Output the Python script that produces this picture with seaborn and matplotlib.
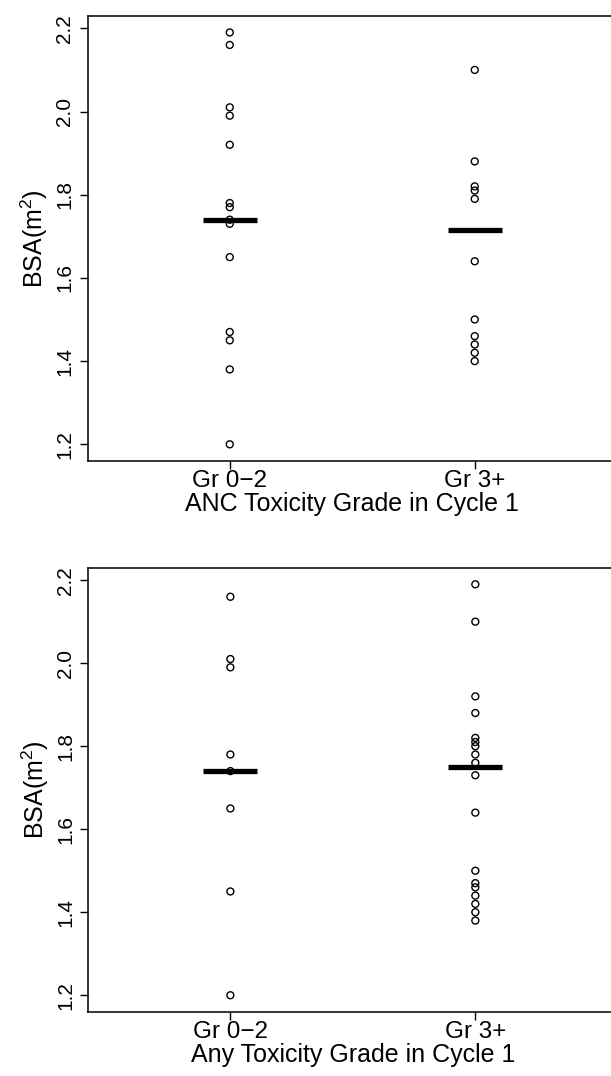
import numpy as np
import pandas as pd
import seaborn as sns
import matplotlib.pyplot as plt

# BSA values
groups = ['Gr 0\u22122', 'Gr 3+']

anc_low = [2.19, 2.16, 2.01, 1.99, 1.92, 1.78, 1.77, 1.74, 1.73, 1.65, 1.47, 1.45, 1.38, 1.20]
anc_high = [2.10, 1.88, 1.82, 1.81, 1.79, 1.64, 1.50, 1.46, 1.44, 1.42, 1.40]
anc_bar = [1.74, 1.715]

any_low = [2.16, 2.01, 1.99, 1.78, 1.74, 1.65, 1.45, 1.20]
any_high = [2.19, 2.10, 1.92, 1.88, 1.82, 1.81, 1.80, 1.78, 1.76, 1.73, 1.64,
            1.50, 1.47, 1.46, 1.44, 1.42, 1.40, 1.38]
any_bar = [1.74, 1.75]

xlabels = ['ANC Toxicity Grade in Cycle 1', 'Any Toxicity Grade in Cycle 1']
yticks = [1.2, 1.4, 1.6, 1.8, 2.0, 2.2]

sns.set_style('ticks')
plt.rcParams['font.family'] = ['Liberation Sans', 'DejaVu Sans']
plt.rcParams['mathtext.default'] = 'regular'
plt.rcParams['text.color'] = 'black'
plt.rcParams['axes.labelcolor'] = 'black'
plt.rcParams['xtick.color'] = 'black'
plt.rcParams['ytick.color'] = 'black'

fig = plt.figure(figsize=(6.11, 10.76), dpi=100)
# right edge of the boxes sits just past the picture, as in the reference
ax1 = fig.add_axes([0.1435, 0.5718, 0.866, 0.4133])
ax2 = fig.add_axes([0.1445, 0.0598, 0.866, 0.4124])

panels = [(ax1, anc_low, anc_high, anc_bar, xlabels[0]),
          (ax2, any_low, any_high, any_bar, xlabels[1])]

for ax, low, high, bar, xlab in panels:
    df = pd.DataFrame({'grade': [groups[0]] * len(low) + [groups[1]] * len(high),
                       'bsa': low + high})
    sns.stripplot(data=df, x='grade', y='bsa', order=groups, jitter=False,
                  color='black', size=5, linewidth=1, ax=ax)
    for coll in ax.collections:
        coll.set_facecolor('none')
        coll.set_edgecolor('black')
    for i, v in enumerate(bar):
        ax.hlines(v, i - 0.11, i + 0.11, color='black', linewidth=3.8, zorder=3)

    ax.set_xlim(-0.58, 1.58)
    ax.set_ylim(1.1605, 2.2295)
    ax.set_yticks(yticks)
    ax.set_yticklabels([f'{t:.1f}' for t in yticks], rotation=90, va='center')
    ax.tick_params(axis='y', labelsize=15, length=6, width=1,
                   color='black', labelcolor='black')
    ax.tick_params(axis='x', labelsize=17.5, length=6, width=1, pad=1,
                   color='black', labelcolor='black')
    for s in ax.spines.values():
        s.set_linewidth(1.1)
        s.set_color('black')
    ax.set_xlabel(xlab, fontsize=18, labelpad=0, color='black')
    ax.set_ylabel('BSA(m$^{2}$)', fontsize=18, labelpad=4, color='black')

fig.savefig('out.png', dpi=100)
